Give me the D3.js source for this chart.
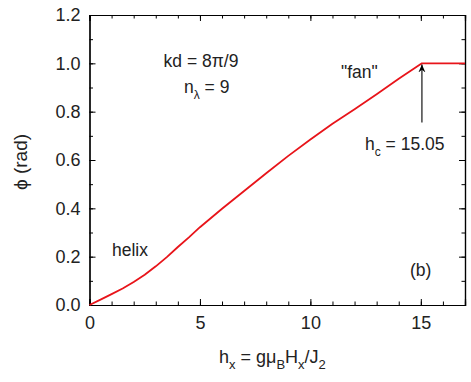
<!DOCTYPE html>
<html>
<head>
<meta charset="utf-8">
<script src="https://cdn.jsdelivr.net/npm/d3@7"></script>
<style>
  body { margin: 0; background: #fff; }
  text { font-family: "Liberation Sans", Arial, sans-serif; fill: #222; }
</style>
</head>
<body>
<div id="chart"></div>
<script>
// phi(h)
const hValues = [0, 0.5, 1, 1.5, 2, 2.5, 3, 3.5, 4, 4.5, 5, 6, 7, 8, 9, 10, 11, 12, 13, 14, 15.05, 17];
const phiValues = [0, 0.022, 0.045, 0.068, 0.095, 0.125, 0.16, 0.198, 0.24, 0.28, 0.322, 0.398, 0.472, 0.545, 0.617, 0.685, 0.75, 0.81, 0.872, 0.936, 1.0, 1.0];
const xTicks = [0, 5, 10, 15];
const yTicks = [0, 0.2, 0.4, 0.6, 0.8, 1.0, 1.2];
const hc = 15.05;

const width = 471, height = 382;
const margin = { top: 15, right: 6, bottom: 77, left: 89.5 };

const svg = d3.select('#chart').append('svg')
    .attr('width', width)
    .attr('height', height);

const x = d3.scaleLinear().domain([0, 17]).range([margin.left, width - margin.right]);
const y = d3.scaleLinear().domain([0, 1.2]).range([height - margin.bottom, margin.top]);

const g = svg.append('g');

// axes with inward ticks, on all four sides
function addAxis(axis, transform, major, minor, fmt) {
    const a = g.append('g').attr('transform', transform);
    a.call(axis.tickValues(minor).tickSize(3.5).tickFormat(''));
    const b = g.append('g').attr('transform', transform);
    b.call(axis.tickValues(major).tickSize(6).tickFormat(fmt || ''));
    [a, b].forEach(s => {
        s.selectAll('path').attr('stroke', '#000').attr('stroke-width', 1.2);
        s.selectAll('line').attr('stroke', '#000').attr('stroke-width', 1);
    });
    return b;
}

const xMinor = d3.range(0, 18, 1);
const yMinor = d3.range(0, 1.21, 0.1);

const bAx = addAxis(d3.axisTop(x).tickSizeOuter(0), `translate(0,${y(0)})`, xTicks, xMinor, d3.format('d'));
bAx.selectAll('text').attr('y', 11).attr('dy', '0.71em').style('font-size', '18px');

addAxis(d3.axisBottom(x).tickSizeOuter(0), `translate(0,${y(1.2)})`, xTicks, xMinor, null);

const lAx = addAxis(d3.axisRight(y).tickSizeOuter(0), `translate(${x(0)},0)`, yTicks, yMinor, d3.format('.1f'));
lAx.selectAll('text').attr('x', -9).attr('text-anchor', 'end').style('font-size', '18px');

addAxis(d3.axisLeft(y).tickSizeOuter(0), `translate(${x(17)},0)`, yTicks, yMinor, null);

// curve
const line = d3.line().x((d, i) => x(hValues[i])).y(d => y(d));
g.append('path')
    .datum(phiValues)
    .attr('d', line)
    .attr('fill', 'none')
    .attr('stroke', '#e8141a')
    .attr('stroke-width', 1.8)
    .attr('stroke-linejoin', 'round');

// arrow to critical field
svg.append('defs').append('marker')
    .attr('id', 'arr')
    .attr('viewBox', '0 0 10 10')
    .attr('refX', 9).attr('refY', 5)
    .attr('markerWidth', 8).attr('markerHeight', 8)
    .attr('orient', 'auto')
    .append('path')
    .attr('d', 'M0,1 L9,5 L0,9 L3,5 Z')
    .attr('fill', '#000');

g.append('line')
    .attr('x1', x(hc)).attr('x2', x(hc))
    .attr('y1', y(0.755)).attr('y2', y(0.995))
    .attr('stroke', '#000').attr('stroke-width', 1.1)
    .attr('marker-end', 'url(#arr)');

// annotations
const ann = svg.append('g').style('font-size', '17.5px');
ann.append('text').attr('x', 201).attr('y', 67).attr('text-anchor', 'middle').text('kd = 8π/9');
const nl = ann.append('text').attr('x', 184).attr('y', 93);
nl.append('tspan').text('n');
nl.append('tspan').attr('dy', 6).style('font-size', '12px').text('λ');
nl.append('tspan').attr('dy', -6).text(' = 9');

ann.append('text').attr('x', 112).attr('y', 256).text('helix');
ann.append('text').attr('x', 341).attr('y', 78).text('"fan"');

const hcT = ann.append('text').attr('x', 365).attr('y', 150);
hcT.append('tspan').text('h');
hcT.append('tspan').attr('dy', 6).style('font-size', '12px').text('c');
hcT.append('tspan').attr('dy', -6).text(' = 15.05');

ann.append('text').attr('x', 410).attr('y', 276).text('(b)');

// axis titles
const xl = ann.append('text').attr('x', 219).attr('y', 363).style('font-size', '18px');
xl.append('tspan').text('h');
xl.append('tspan').attr('dy', 6).style('font-size', '13px').text('x');
xl.append('tspan').attr('dy', -6).text(' = gμ');
xl.append('tspan').attr('dy', 6).style('font-size', '13px').text('B');
xl.append('tspan').attr('dy', -6).text('H');
xl.append('tspan').attr('dy', 6).style('font-size', '13px').text('x');
xl.append('tspan').attr('dy', -6).text('/J');
xl.append('tspan').attr('dy', 6).style('font-size', '13px').text('2');

ann.append('text')
    .attr('transform', 'translate(27,162) rotate(-90)')
    .attr('text-anchor', 'middle')
    .style('font-size', '19px')
    .text('ϕ (rad)');
</script>
</body>
</html>
